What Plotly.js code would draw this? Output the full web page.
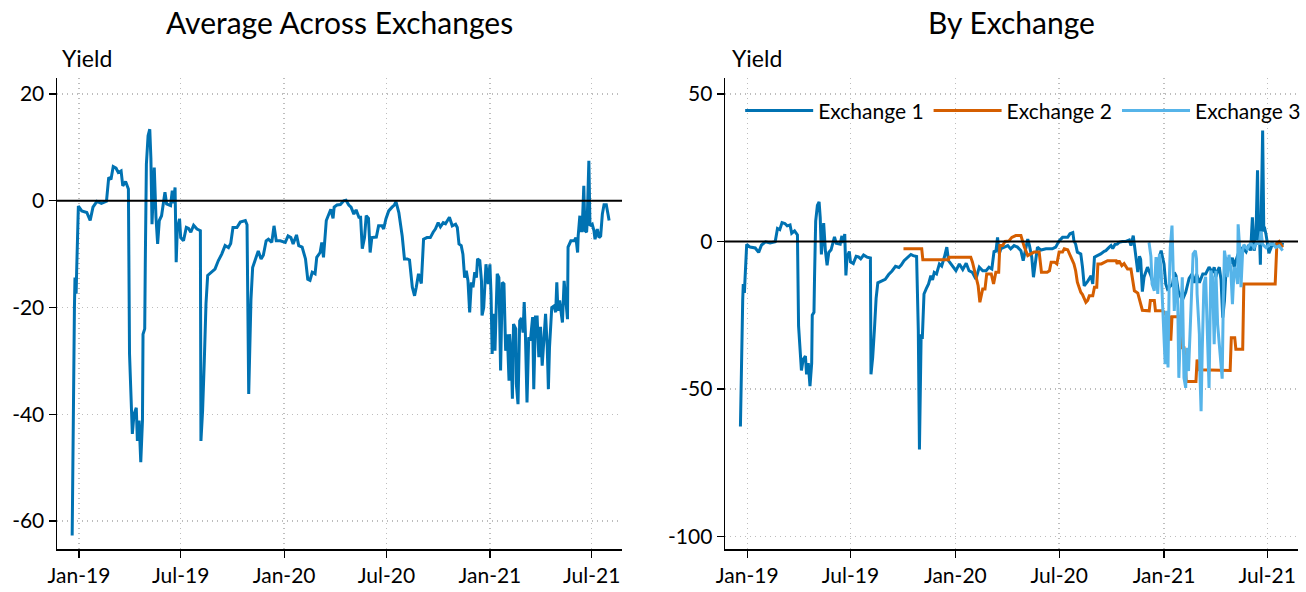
<!DOCTYPE html>
<html>
<head>
<meta charset="utf-8">
<script src="https://cdn.plot.ly/plotly-3.0.1.min.js"></script>
<style>html,body{margin:0;padding:0;background:#fff;}</style>
</head>
<body>
<div id="chart" style="width:1306px;height:592px;"></div>
<script>
// Days are counted from 2019-01-01.
// Period where Exchange 1 is the only exchange (identical in both panels)
const soloDay = [-12,-10,-8,-7,-5,-4,-1,5,14,20,
  25,32,40,49,53,57,61,66,70,75,
  78,83,88,90,93,95,98,102,104,107,
  110,113,114,117,118,120,123,126,128,130,
  134,137,140,143,147,150,153,156,163,166,
  168,171,173,175,179,181,186,191,195,199,
  204,210,216,217,220,223,226,229,236,242,
  248,254,260,266,270];
const soloYield = [-62.7,-34,-20,-14.4,-17.4,-13,-1,-1.9,-2.2,-3.7,
  -1.2,-0.1,-0.5,-0.1,4.4,4.0,6.4,6.1,5.3,5.6,
  2.8,3.6,2.2,-28.7,-37.5,-43.7,-40,-38.8,-45,-41.2,
  -49,-41.2,-25,-24,-12,6.9,12.2,13.4,8,-4.4,
  6.2,-3,-8.1,-3.7,-2.8,-0.9,1.6,-0.6,-0.9,1.9,
  -0.5,2.5,-11.5,-5.3,-3.4,-6.9,-7.5,-5,-5.2,-5.9,
  -4.6,-5.3,-5.6,-45,-39.3,-30,-19.3,-14,-13.4,-12.8,
  -11.2,-10,-8.4,-8.8,-8.0];

// Average across exchanges, after the solo period
const avgDay = [274,281,287,296,299,302,306,309,314,319,
  324,328,333,337,343,347,351,358,367,372,
  377,381,387,391,397,403,407,411,415,420,
  423,429,432,435,440,444,448,452,454,459,
  465,471,475,480,484,489,493,498,501,504,
  508,511,515,518,521,529,533,539,542,546,
  551,557,561,564,569,575,579,584,588,593,
  597,600,604,609,613,619,625,630,634,639,
  643,648,652,659,664,670,673,676,680,683,
  686,689,692,695,698,701,704,707,709,713,
  716,717,720,724,728,731,733,735,737,740,
  744,747,750,753,756,759,762,765,766,769,
  771,773,777,778,781,784,787,790,792,794,
  797,800,803,807,809,812,815,818,821,824,
  827,830,833,835,837,841,845,848,850,852,
  855,857,860,863,866,869,870,875,881,884,
  887,888,891,892,895,898,900,903,904,907,
  909,913,916,918,922,925,928,931,934,938,
  941,943];
const avgYield = [-5,-5,-4,-3.7,-4.5,-36.2,-18.5,-12.5,-10.9,-9.4,
  -10.9,-10.2,-7.5,-7.2,-7.8,-4.7,-7.5,-7.5,-7.8,-6.6,
  -6.9,-8.1,-6.4,-8.4,-8.7,-10.9,-14.7,-14.9,-13.4,-13.7,
  -10.6,-9.7,-7.8,-10.6,-3.7,-2.5,-1.6,-3.3,-1.2,-0.8,
  -0.7,0,0.1,-0.8,-1.2,-2.5,-1.7,-3.1,-3.1,-9,
  -6.9,-2.8,-3.3,-9.7,-6.9,-6.8,-4.7,-4.7,-5.3,-3.4,
  -1.9,-1.2,-0.8,-0.2,-2.2,-6.6,-10.9,-10.9,-11.1,-16.2,
  -17.8,-16.2,-13.7,-15.5,-7.2,-6.9,-6.9,-5.9,-5.3,-4.1,
  -4.9,-4.1,-4.3,-3.1,-4.7,-4.4,-5,-8.1,-8.4,-10,
  -14.4,-13.1,-15,-20.9,-15.3,-16.2,-13.4,-14.4,-10.9,-11.2,
  -15,-21.5,-20,-11.9,-15.6,-11.9,-17.5,-28.7,-21.2,-28.1,
  -13.7,-14.4,-31.8,-15.3,-15.6,-28.1,-25,-33.7,-25,-29.3,
  -37.1,-23.1,-24,-34.3,-38.1,-22.5,-22,-24.7,-19,-24.5,
  -37.8,-25.6,-26.2,-21.8,-35.3,-21.8,-21.8,-29.3,-23.6,-30.9,
  -26.9,-21.2,-27.5,-35.3,-27.5,-20,-19.7,-20.9,-15.3,-20.6,
  -18.7,-20,-22.8,-15,-18.4,-22.2,-8.7,-7.5,-7.5,-6.9,
  -9.7,-6.6,-2.8,-5.6,-5.6,2.8,-5.6,-5.9,-4,7.5,
  -4.7,-4.4,-5.6,-7.2,-5.3,-6.9,-6.6,-2.5,-0.75,-0.75,
  -2.5,-3.7];

// Exchange 1, after the solo period
const ex1Day = [275,287,291,297,300,302,305,307,310,314,
  318,322,325,328,332,337,341,346,350,353,
  357,366,372,378,384,389,395,401,407,413,
  419,424,429,433,436,439,442,445,451,457,
  462,468,474,480,484,488,492,495,499,502,
  506,509,515,524,530,535,541,547,553,562,
  566,571,573,576,579,585,588,591,597,600,
  603,606,609,614,620,626,629,635,638,641,
  645,649,652,658,664,670,673,677,680,685,
  688,690,693,696,702,708,714,717,721,726,
  728,731,734,737,743,746,749,752,756,763,
  769,775,780,784,788,793,799,804,810,816,
  819,822,825,828,831,834,837,840,845,848,
  851,854,857,863,869,875,880,883,886,889,
  892,895,897,898,900,901,904,906,907,910,
  913,915,920,927,933,941];
const ex1Yield = [-6.5,-4.4,-4.8,-5.1,-30,-70.5,-31.4,-33,-17.8,-16,
  -14.4,-11.6,-13,-10.5,-11,-7.6,-8.3,-5.1,-1.9,-6.5,
  -7.6,-9.9,-7.6,-9.5,-7.4,-9.9,-10.5,-12.7,-8.7,-9.9,
  -9.9,-8.7,-9.3,-3.1,-3.6,1.4,-4.2,-2.4,-1.9,-1.4,
  -2.5,-1.4,-1.9,-3.1,-6.5,-2.5,0.8,-1.4,-5.3,-12.1,
  -7,-1.9,-2.9,-2.5,-2.5,-2.5,-1.9,0.2,1.4,1.4,
  2.6,3,0.2,-0.9,-3.6,-4.2,-8.7,-15,-13.5,-12.5,
  -11.6,-14.4,-5.3,-4.8,-4.2,-3.3,-3.1,-1.9,-1.4,-2.4,
  -1.0,-0.9,-0.3,0,0,0.5,-1.4,2,-3,-10.4,
  -5,-6,-17,-12,-8.7,-11.6,-15.5,-10,-6.5,-3.1,
  -5,-7.6,-14.4,-16.1,-15,-14.4,-10.5,-11.6,-16.7,-20,
  -17.2,-12.5,-11,-14,-11,-14,-11,-11,-8.7,-10.5,
  -8.7,-12,-9.9,-8.7,-13,-25.8,-20,-8.7,-5.5,-7.5,
  -5.5,-8.7,-6.5,-3.1,-2.1,-3.5,-1.1,-3.1,8.2,-3.1,
  0,24.1,-1.1,4.6,-7.9,6.8,37.6,3.4,5,2.3,
  -1.1,-4,-1.5,-1.1,-0.7,-1];

// Exchange 2
const ex2Day = [274,306,308,353,354,392,395,401,405,408,
  413,417,420,428,432,436,441,443,448,452,
  459,464,471,480,483,486,492,498,503,512,
  516,526,530,533,539,543,547,553,556,562,
  568,573,576,579,582,585,588,594,597,600,
  606,609,613,615,621,632,647,649,652,657,
  661,667,673,676,679,685,689,693,705,707,
  714,716,729,735,740,741,743,745,760,763,
  766,770,787,789,793,847,849,855,857,869,
  871,926,929,933,936,939];
const ex2Yield = [-2.5,-2.5,-6.2,-6.2,-5.3,-5.3,-7,-12.1,-15,-20.6,
  -16.1,-16.1,-11,-11,-14.4,-10.4,-10.4,-1.4,-1.4,0,
  0.2,1.4,2,2,-0.5,-1.9,-4.8,-4.2,-3.6,-3.6,
  -10.4,-10.4,-9.9,-7,-7,-7.6,-3.6,-3.6,-2.5,-2.8,
  -5.3,-7.6,-9.9,-13.8,-15.5,-17.2,-18,-20.6,-20,-18.4,
  -18.4,-15.5,-15.5,-7.6,-7.6,-6.5,-6.5,-7.6,-6.5,-8.2,
  -7.5,-9.3,-9.3,-12.7,-16.7,-17.5,-20.6,-23.3,-23.5,-20,
  -20,-23.5,-23.5,-25,-25.5,-33.1,-33.1,-25.5,-25.5,-36,
  -36,-47.4,-47.4,-40,-43.5,-43.7,-32.6,-32.6,-36.5,-36.5,
  -14.4,-14.4,-0.5,0,-1,-2];

// Exchange 3
const ex3Day = [703,705,708,710,714,717,720,723,726,731,
  733,735,738,740,742,745,746,749,752,755,
  757,760,763,766,769,771,774,777,779,782,
  786,788,789,793,794,796,798,801,804,807,
  810,813,816,819,822,825,828,830,833,835,
  837,840,842,845,848,851,854,857,860,861,
  864,866,869,871,877,883,889,895,898,901,
  904,910,915,921,927,933,939];
const ex3Yield = [-1,-0.8,-5,-14.4,-16.7,-5.3,-17.8,-4.2,-10,-34.8,
  -41.6,-23.5,-42.7,-15,-2,5.4,-3.1,-23.5,-12.1,-20,
  -46.2,-25,-12.1,-46.2,-49.6,-36,-43.9,-29.2,-17.8,-4.2,
  -3.1,-6,-17.8,-31.4,-45,-57.5,-37,-14.4,-12,-34.8,
  -49.6,-9.9,-12,-34.8,-9.9,-28,-34.8,-40,-46.5,-20,
  -3.1,-7,-12.1,-4.5,-9,-21.2,-8.7,-10,-14.4,5.8,
  -3.1,-15.5,-3,-1.1,-2.5,-0.5,-2.1,0.3,-1,3.4,
  -1,-2.1,-1.2,-0.5,-2,-1.5,-3.1];

const dateTicks = ['2019-01-01','2019-07-01','2020-01-01','2020-07-01','2021-01-01','2021-07-01'];
const dateTickText = ['Jan-19','Jul-19','Jan-20','Jul-20','Jan-21','Jul-21'];
const leftTicks = [20,0,-20,-40,-60];
const leftTickText = ['20','0','-20','-40','-60'];
const rightTicks = [50,0,-50,-100];
const rightTickText = ['50','0','-50','-100'];
const seriesNames = ['Exchange 1','Exchange 2','Exchange 3'];

const BASE = Date.UTC(2019,0,1);
const toDate = d => new Date(BASE + d*86400000).toISOString().slice(0,10);
const dates = arr => arr.map(toDate);

const C1 = '#0072B2', C2 = '#D55E00', C3 = '#56B4E9';
const LW = 3;

const traces = [
  {x: dates(soloDay.concat(avgDay)), y: soloYield.concat(avgYield), xaxis:'x', yaxis:'y',
   type:'scatter', mode:'lines', line:{color:C1, width:LW}, showlegend:false, name:'Average'},
  {x: dates(soloDay.concat(ex1Day)), y: soloYield.concat(ex1Yield), xaxis:'x2', yaxis:'y2',
   type:'scatter', mode:'lines', line:{color:C1, width:LW}, name:seriesNames[0]},
  {x: dates(ex2Day), y: ex2Yield, xaxis:'x2', yaxis:'y2',
   type:'scatter', mode:'lines', line:{color:C2, width:LW}, name:seriesNames[1]},
  {x: dates(ex3Day), y: ex3Yield, xaxis:'x2', yaxis:'y2',
   type:'scatter', mode:'lines', line:{color:C3, width:LW}, name:seriesNames[2]}
];

const FONT = 'Lato, "DejaVu Sans", sans-serif';
const GRID = {showgrid:true, gridcolor:'#bdbdbd', griddash:'1px,4px', gridwidth:1.3};
const xCommon = Object.assign({
  type:'date', range:['2018-11-23','2021-08-24'],
  tickvals: dateTicks, ticktext: dateTickText,
  showline:true, linecolor:'#000', linewidth:1.5,
  ticks:'outside', ticklen:7, tickwidth:1.2, tickcolor:'#000',
  zeroline:false, automargin:false, tickfont:{size:21, color:'#000'}
}, GRID);
const yCommon = Object.assign({
  showline:true, linecolor:'#000', linewidth:1.5,
  ticks:'outside', ticklen:7, tickwidth:1.2, tickcolor:'#000',
  zeroline:false, automargin:false, tickfont:{size:21, color:'#000'}
}, GRID);

const layout = {
  width:1306, height:592,
  margin:{l:57, r:8, t:78, b:43, autoexpand:false},
  paper_bgcolor:'#fff', plot_bgcolor:'#fff',
  font:{family:FONT, size:21, color:'#000'},
  xaxis: Object.assign({}, xCommon, {domain:[0,0.4553], anchor:'y'}),
  yaxis: Object.assign({}, yCommon, {domain:[0,1], anchor:'x', range:[-65.25,23.0], tickvals:leftTicks, ticktext:leftTickText}),
  xaxis2: Object.assign({}, xCommon, {domain:[0.5383,1], anchor:'y2'}),
  yaxis2: Object.assign({}, yCommon, {domain:[0,1], anchor:'x2', range:[-104.2,55.4], tickvals:rightTicks, ticktext:rightTickText}),
  showlegend:true,
  legend:{orientation:'h', x:0.5505, y:0.93, xanchor:'left', yanchor:'middle',
    bgcolor:'rgba(255,255,255,0)', borderwidth:0, font:{size:21, color:'#000'},
    itemwidth:68, tracegroupgap:0},
  shapes:[
    {type:'line', xref:'x domain', x0:0, x1:1, yref:'y', y0:0, y1:0, line:{color:'#000', width:2}},
    {type:'line', xref:'x2 domain', x0:0, x1:1, yref:'y2', y0:0, y1:0, line:{color:'#000', width:2}}
  ],
  annotations:[
    {text:'Average Across Exchanges', xref:'paper', yref:'paper', x:0.2277, y:1.119, xanchor:'center', yanchor:'middle', showarrow:false, font:{size:30, color:'#000'}},
    {text:'By Exchange', xref:'paper', yref:'paper', x:0.7692, y:1.119, xanchor:'center', yanchor:'middle', showarrow:false, font:{size:30, color:'#000'}},
    {text:'Yield', xref:'paper', yref:'paper', x:0.0024, y:1.042, xanchor:'left', yanchor:'middle', showarrow:false, font:{size:23, color:'#000'}},
    {text:'Yield', xref:'paper', yref:'paper', x:0.5423, y:1.042, xanchor:'left', yanchor:'middle', showarrow:false, font:{size:23, color:'#000'}}
  ]
};

Plotly.newPlot('chart', traces, layout, {displayModeBar:false, staticPlot:true});
</script>
</body>
</html>
